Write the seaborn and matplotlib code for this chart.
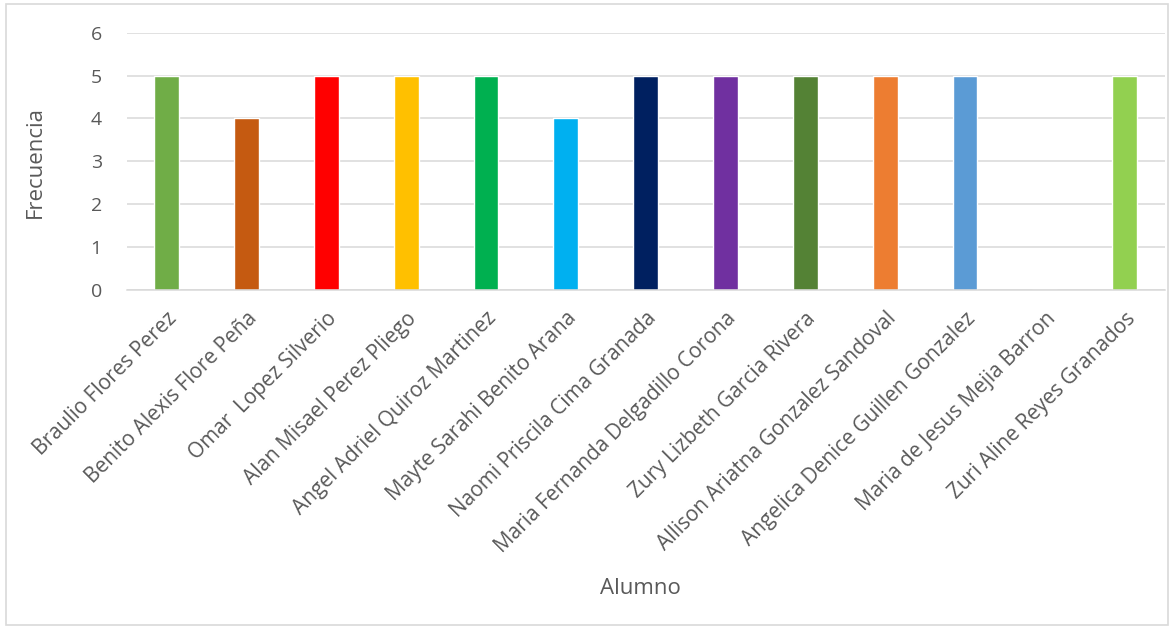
import matplotlib
matplotlib.use("Agg")
import matplotlib.pyplot as plt
import pandas as pd
import seaborn as sns
from matplotlib.patches import Rectangle

alumnos = [
    "Braulio Flores Perez",
    "Benito Alexis Flore Peña",
    "Omar  Lopez Silverio",
    "Alan Misael Perez Pliego",
    "Angel Adriel Quiroz Martinez",
    "Mayte Sarahi Benito Arana",
    "Naomi Priscila Cima Granada",
    "Maria Fernanda Delgadillo Corona",
    "Zury Lizbeth Garcia Rivera",
    "Allison Ariatna Gonzalez Sandoval",
    "Angelica Denice Guillen Gonzalez",
    "Maria de Jesus Mejia Barron",
    "Zuri Aline Reyes Granados",
]
frecuencia = [5, 4, 5, 5, 5, 4, 5, 5, 5, 5, 5, 0, 5]
colores = ["#70AD47", "#C55A11", "#FF0000", "#FFC000", "#00B050", "#00B0F0",
           "#002060", "#7030A0", "#548235", "#ED7D31", "#5B9BD5", "#FFFF00",
           "#92D050"]
y_ticks = [0, 1, 2, 3, 4, 5, 6]

df = pd.DataFrame({"Alumno": alumnos, "Frecuencia": frecuencia})

sns.set_style("white")
plt.rcParams['font.family'] = ['Open Sans', 'DejaVu Sans']
gris = "#595959"

fig = plt.figure(figsize=(11.74, 6.30), dpi=100)
ax = fig.add_axes([0.108, 0.540, 0.884, 0.408])

sns.barplot(data=df, x="Alumno", y="Frecuencia", hue="Alumno",
            palette=colores, width=0.31, legend=False, ax=ax, saturation=1)

ax.set_ylim(0, 6)
ax.set_yticks(y_ticks)
ax.yaxis.grid(True, color="#D9D9D9", linewidth=1.1)
ax.set_axisbelow(True)
for s in ["top", "right", "left"]:
    ax.spines[s].set_visible(False)
ax.spines["bottom"].set_color("#D9D9D9")
ax.spines["bottom"].set_linewidth(1.1)
ax.tick_params(axis="both", length=0, colors=gris)
ax.tick_params(axis="y", pad=18, labelsize=14)
ax.tick_params(axis="x", pad=13, labelsize=15)
plt.setp(ax.get_xticklabels(), rotation=45, ha="right", rotation_mode="anchor")

ax.set_xlabel("")
ax.set_ylabel("")
fig.text(640 / 1174, 1 - 588 / 630, "Alumno", fontsize=16, color=gris,
         ha="center", va="center")
fig.text(0.03, 1 - 162 / 630, "Frecuencia", fontsize=16, color=gris,
         ha="center", va="center", rotation=90)

fig.patches.append(Rectangle((0.005, 0.008), 0.99, 0.985, transform=fig.transFigure,
                             fill=False, edgecolor="#D9D9D9", linewidth=1.2))

plt.savefig("out.png", dpi=100)
